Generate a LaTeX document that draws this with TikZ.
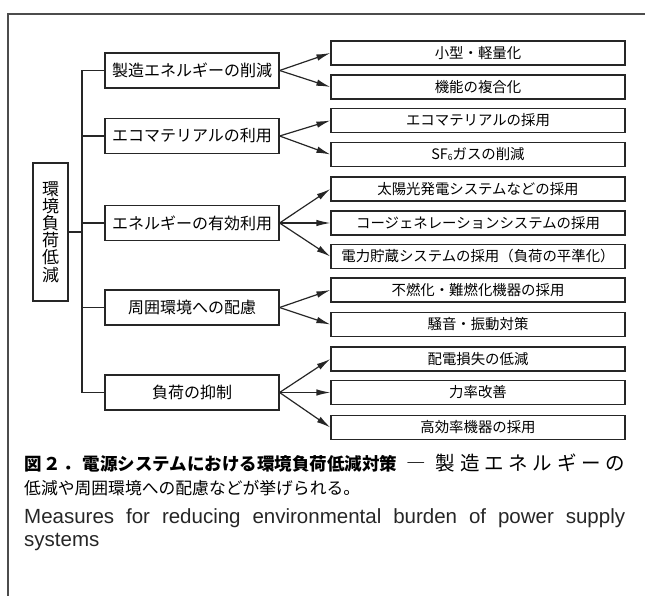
\documentclass[tikz,border=0pt]{standalone}
\usepackage{fontspec}
\setmainfont{Liberation Sans}
\newfontfamily\jp{Noto Sans CJK JP}
\usetikzlibrary{arrows.meta}
\begin{document}
\begin{tikzpicture}[x=1pt,y=-1pt,
  box/.style={draw=black!85, line width=1.2pt, inner sep=0pt, font=\jp\fontsize{16}{18}\selectfont},
  midbox/.style={box, minimum width=174pt, minimum height=35pt},
  leafbox/.style={box, minimum width=294pt, minimum height=24pt, font=\jp\fontsize{14.4}{16}\selectfont},
  rootbox/.style={box, minimum width=35pt, minimum height=138pt, align=center, font=\jp\fontsize{17}{17.2}\selectfont},
  link/.style={draw=black!85, line width=1.2pt},
  arr/.style={link, -{Latex[length=14pt,width=6.5pt]}},
  frameline/.style={draw=black!70, line width=1.3pt},
  captxt/.style={anchor=base west, inner sep=0pt}]
\useasboundingbox (0,0) rectangle (645,596);
\draw[frameline] (645,14) -- (8,14) -- (8,596);

\node[rootbox] (root) at (50.5,232) {環\\境\\負\\荷\\低\\減};

\node[midbox] (m1) at (192,70.5) {製造エネルギーの削減};
\node[midbox] (m2) at (192,136) {エコマテリアルの利用};
\node[midbox] (m3) at (192,223) {エネルギーの有効利用};
\node[midbox] (m4) at (192,307.5) {周囲環境への配慮};
\node[midbox] (m5) at (192,392.5) {負荷の抑制};

\node[leafbox] (l1) at (478,53) {小型・軽量化};
\node[leafbox] (l2) at (478,87) {機能の複合化};
\node[leafbox] (l3) at (478,120.5) {エコマテリアルの採用};
\node[leafbox] (l4) at (478,154.5) {SF{\fontsize{8.5}{9}\selectfont\raisebox{-0.4pt}{6}}ガスの削減};
\node[leafbox] (l5) at (478,189) {太陽光発電システムなどの採用};
\node[leafbox] (l6) at (478,223) {コージェネレーションシステムの採用};
\node[leafbox] (l7) at (478,256.5) {電力貯蔵システムの採用（負荷の平準化）};
\node[leafbox] (l8) at (478,290) {不燃化・難燃化機器の採用};
\node[leafbox] (l9) at (478,324.5) {騒音・振動対策};
\node[leafbox] (l10) at (478,359) {配電損失の低減};
\node[leafbox] (l11) at (478,392.5) {力率改善};
\node[leafbox] (l12) at (478,427.5) {高効率機器の採用};

\coordinate (trunk) at (82,232);
\draw[link] (m1.west) -- (m1.west -| trunk) -- (m5.west -| trunk) -- (m5.west);
\draw[link] (m2.west) -- (m2.west -| trunk);
\draw[link] (m3.west) -- (m3.west -| trunk);
\draw[link] (m4.west) -- (m4.west -| trunk);
\draw[link] (root.east) -- (trunk);

\draw[arr] (m1.east) -- (l1.west);
\draw[arr] (m1.east) -- (l2.west);
\draw[arr] (m2.east) -- (l3.west);
\draw[arr] (m2.east) -- (l4.west);
\draw[arr] (m3.east) -- (l5.west);
\draw[arr] (m3.east) -- (l6.west);
\draw[arr] (m3.east) -- (l7.west);
\draw[arr] (m4.east) -- (l8.west);
\draw[arr] (m4.east) -- (l9.west);
\draw[arr] (m5.east) -- (l10.west);
\draw[arr] (m5.east) -- (l11.west);
\draw[arr] (m5.east) -- (l12.west);

\node[captxt] (cap1) at (24,470) {\hbox to 601pt{\jp{\fontsize{17.5}{20}\selectfont\bfseries 図\kern2pt ２\kern2pt ．\kern2pt 電源システムにおける環境負荷低減対策}\fontsize{19.5}{20}\selectfont\hfil\hfil ―\hfil\hfil 製\hfil 造\hfil エ\hfil ネ\hfil ル\hfil ギ\hfil ー\hfil の}};
\node[captxt] (cap2) at (24,494) {\jp\fontsize{16.8}{20}\selectfont 低減や周囲環境への配慮などが挙げられる。};
\node[captxt, text=black!85] (cap3) at (24,523) {\fontsize{20.5}{22}\selectfont\makebox[601pt][s]{Measures for reducing environmental burden of power supply}};
\node[captxt, text=black!85] (cap4) at (24,546) {\fontsize{20.5}{22}\selectfont systems};
\end{tikzpicture}
\end{document}
